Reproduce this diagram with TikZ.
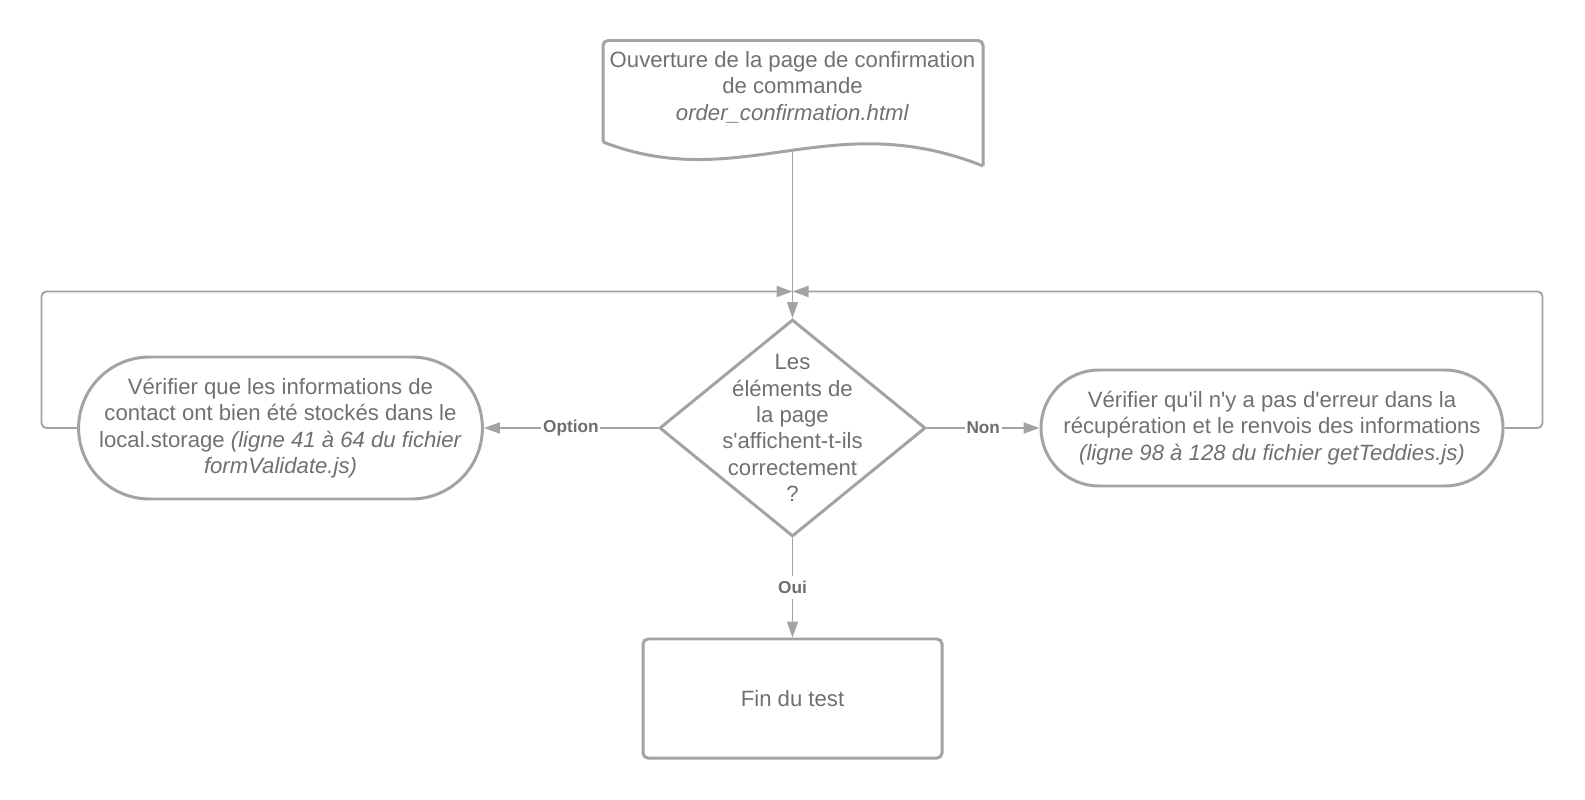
\documentclass[tikz,border=0pt]{standalone}
\usepackage{fontspec}
\setmainfont{Liberation Sans}[Ligatures=TeXOff]
\usetikzlibrary{arrows.meta,shapes.geometric,shapes.misc}

\definecolor{linegray}{RGB}{163,163,163}
\definecolor{textgray}{RGB}{112,112,112}
\definecolor{labelgray}{RGB}{110,110,110}

\tikzset{
	box/.style={draw=linegray, line width=1.7pt, text=textgray, align=center, font=\fontsize{12.6}{15}\selectfont},
	stadium/.style={box, rounded rectangle, inner sep=0pt},
	decision/.style={box, diamond, shape aspect=1.226, inner sep=-0.3cm, minimum width=5.32cm, minimum height=4.34cm},
	endbox/.style={box, rectangle, rounded corners=1mm, minimum width=5.98cm, minimum height=2.38cm},
	flow/.style={draw=linegray, line width=1.1pt, -{Triangle[length=3.2mm,width=2.2mm]}},
	link/.style={draw=linegray, line width=1.1pt},
	answer/.style={fill=white, text=labelgray, inner sep=1pt, font=\fontsize{9.8}{12}\selectfont\bfseries}
}

\begin{document}
\begin{tikzpicture}
			%%%%% START %%%%%
			\useasboundingbox (0,0) rectangle (31.7,-16);
			
			% page de depart
			\draw[linegray, line width=1.7pt, rounded corners=1mm] (12.06,-2.84) -- (12.06,-0.81) -- (19.66,-0.81) -- (19.66,-3.32);
			\draw[linegray, line width=1.7pt] (12.06,-2.84) .. controls (14.8,-3.9) and (16.6,-2.1) .. (19.66,-3.32);
			\node[text=textgray, align=center, font=\fontsize{12.6}{15}\selectfont] (page) at (15.85,-1.74)
				{Ouverture de la page de confirmation\\de commande\\\textit{order\_confirmation.html}};
			\coordinate (pageout) at (15.85,-3.01);
			
			% test
			\node[decision] (test) at (15.85,-8.56)
				{Les\\éléments de\\la page\\s'affichent-t-ils\\correctement\\?};
			
			\node[stadium, minimum width=7.98cm, minimum height=2.84cm] (storage) at (5.61,-8.56)
				{Vérifier que les informations de\\contact ont bien été stockés dans le\\local.storage \textit{(ligne 41 à 64 du fichier}\\\textit{formValidate.js)}};
			
			\node[stadium, minimum width=9.24cm, minimum height=2.32cm] (fetch) at (25.44,-8.56)
				{Vérifier qu'il n'y a pas d'erreur dans la\\récupération et le renvois des informations\\\textit{(ligne 98 à 128 du fichier getTeddies.js)}};
			
			\node[endbox] (fin) at (15.85,-13.97) {Fin du test};
			
			\coordinate (meet) at (15.85,-5.83);
			\coordinate (loopL) at (0.83,-5.83);
			\coordinate (loopR) at (30.85,-5.83);
			
			% connecteurs
			\draw[flow] (pageout) -- (test.north);
			\draw[flow] (test.west) -- node[answer] {Option} (storage.east);
			\draw[flow] (test.east) -- node[answer] {Non} (fetch.west);
			\draw[flow] (test.south) -- node[answer, inner sep=3pt] {Oui} (fin.north);
			\draw[flow, rounded corners=1mm] (storage.west) -| (loopL) -- (meet);
			\draw[flow, rounded corners=1mm] (fetch.east) -| (loopR) -- (meet);
			
			%%%%% END %%%%%
		\end{tikzpicture}
\end{document}
